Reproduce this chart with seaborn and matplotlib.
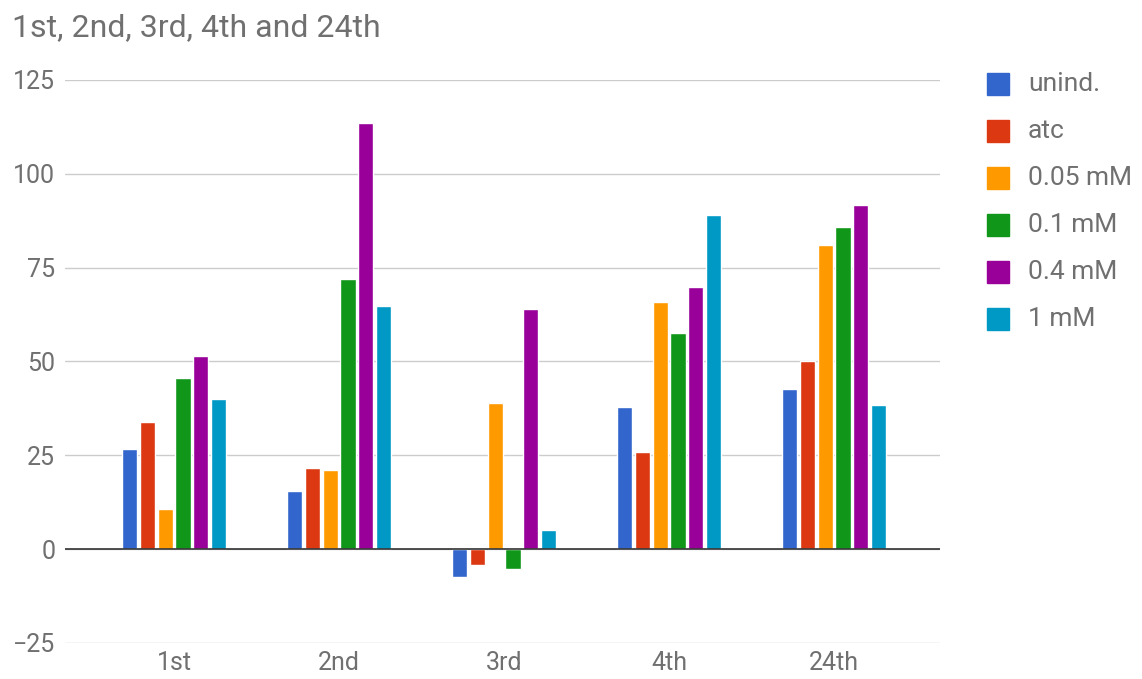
import pandas as pd
import matplotlib.pyplot as plt
import seaborn as sns

# Data

hours = ["1st", "2nd", "3rd", "4th", "24th"]
series = ["unind.", "atc", "0.05 mM", "0.1 mM", "0.4 mM", "1 mM"]
unind = [26.8, 15.5, -7.5, 37.8, 42.6]
atc = [33.8, 21.5, -4.3, 26.0, 50.0]
mm_005 = [10.8, 21.0, 38.9, 65.9, 81.1]
mm_01 = [45.5, 71.9, -5.3, 57.5, 85.8]
mm_04 = [51.4, 113.5, 64.1, 69.8, 91.8]
mm_1 = [40.0, 64.7, 5.1, 89.0, 38.5]
colors = ["#3366cc", "#dc3912", "#ff9900", "#109618", "#990099", "#0099c6"]

values = [unind, atc, mm_005, mm_01, mm_04, mm_1]
df = pd.DataFrame(
    [(h, s, v) for s, vals in zip(series, values) for h, v in zip(hours, vals)],
    columns=["hour", "series", "value"],
)

sns.set_style("white")
plt.rcParams["font.family"] = ["Roboto", "DejaVu Sans"]

fig = plt.figure(figsize=(11.42, 6.79), dpi=100)
ax = fig.add_axes([65 / 1142, 1 - 643 / 679, 875 / 1142, 563 / 679])

sns.barplot(
    data=df, x="hour", y="value", hue="series", hue_order=series,
    palette=colors, width=0.65, gap=0.15, ax=ax, legend=False,
    saturation=1,
)

ax.set_xlim(-0.661, 4.642)
ax.set_ylim(-25, 125)
ax.set_yticks([-25, 0, 25, 50, 75, 100, 125])
ax.grid(axis="y", color="#cccccc", linewidth=1)
ax.set_axisbelow(True)
ax.axhline(0, color="#333333", linewidth=1.2, zorder=3)
for sp in ax.spines.values():
    sp.set_visible(False)
ax.tick_params(axis="both", length=0, labelsize=18, labelcolor="#707070")
ax.tick_params(axis="y", pad=7)
ax.tick_params(axis="x", pad=6)
ax.set_xlabel("")
ax.set_ylabel("")

fig.text(12 / 1142, 1 - 28 / 679, "1st, 2nd, 3rd, 4th and 24th",
         fontsize=23, color="#707070", va="center")

for i, (name, c) in enumerate(zip(series, colors)):
    y = 1 - (84 + i * 47) / 679
    fig.patches.append(plt.Rectangle((987 / 1142, y - 11 / 679), 22 / 1142, 22 / 679,
                                     transform=fig.transFigure, color=c, figure=fig))
    fig.text(1028 / 1142, y, name, fontsize=19, color="#707070", va="center")

fig.savefig("out.png", dpi=100)
